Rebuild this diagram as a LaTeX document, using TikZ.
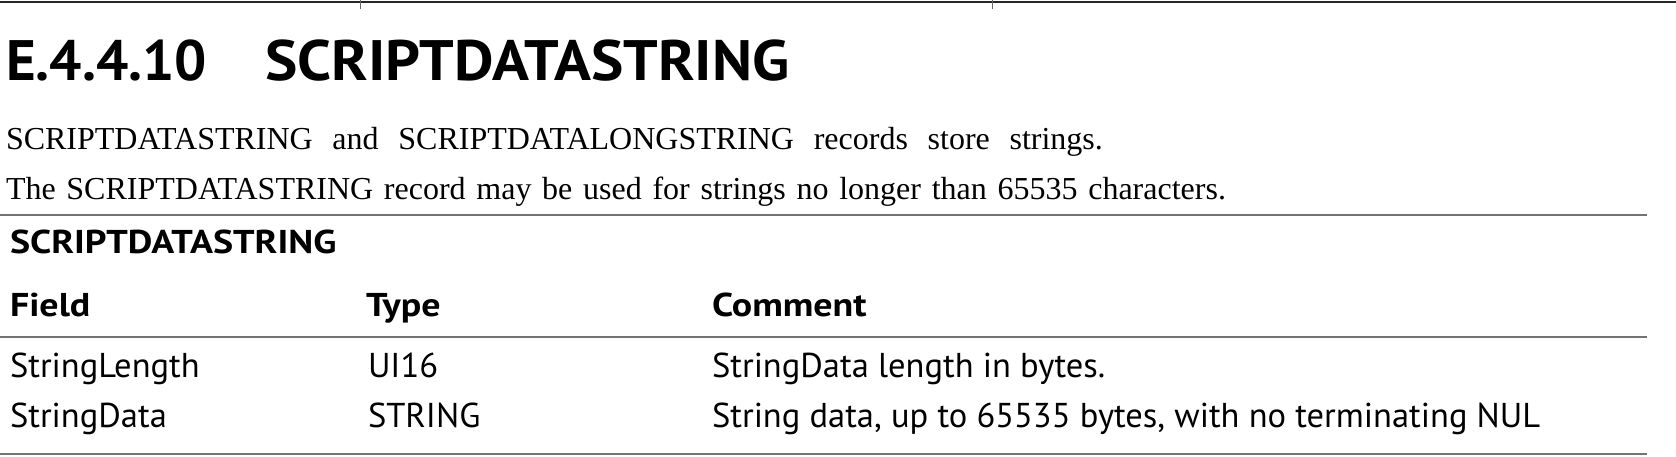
\documentclass[tikz,border=0pt]{standalone}
\usepackage{fontspec}
\setmainfont{Liberation Serif}
\newfontfamily\hsans{PT Sans}
\newfontfamily\hsanswide[FakeStretch=1.15]{PT Sans}
\newfontfamily\hsanshead[FakeStretch=1.07]{PT Sans}
\begin{document}
\begin{tikzpicture}[x=1pt,y=-1pt]
\tikzset{
 txt/.style={anchor=base west, inner sep=0pt, outer sep=0pt},
 headnum/.style={txt, font=\hsans\bfseries\fontsize{57}{62}\selectfont},
 headtxt/.style={txt, font=\hsanshead\bfseries\fontsize{57}{62}\selectfont},
 bodytxt/.style={txt, font=\fontsize{32}{36}\selectfont},
 tabtitle/.style={txt, font=\hsanswide\bfseries\fontsize{33}{36}\selectfont},
 tabhead/.style={txt, font=\hsanswide\bfseries\fontsize{33}{36}\selectfont},
 tabcell/.style={txt, font=\hsans\fontsize{34.5}{38}\selectfont},
 toprule/.style={draw=black!85, line width=2.6pt},
 midrule/.style={draw=black!55, line width=1.6pt},
 tick/.style={draw=black!60, line width=1pt},
}
\useasboundingbox (0,0) rectangle (1676,456);
% rules
\coordinate (t0) at (0,2);   \coordinate (t1) at (1676,2);
\coordinate (r1a) at (0,215); \coordinate (r1b) at (1647,215);
\coordinate (r2a) at (0,337); \coordinate (r2b) at (1647,337);
\coordinate (r3a) at (0,454); \coordinate (r3b) at (1647,454);
\coordinate (k1a) at (360,0); \coordinate (k1b) at (360,9);
\coordinate (k2a) at (992,0); \coordinate (k2b) at (992,9);
\draw[toprule] (t0) -- (t1);
\draw[tick] (k1a) -- (k1b);
\draw[tick] (k2a) -- (k2b);
\draw[midrule] (r1a) -- (r1b);
\draw[midrule] (r2a) -- (r2b);
\draw[midrule] (r3a) -- (r3b);
% heading
\node[headnum] (hnum) at (6,80) {E.4.4.10};
\node[headtxt] (htitle) at (265,80) {SCRIPTDATASTRING};
% body
\node[bodytxt] (b1) at (6,149) {\makebox[1097pt][s]{SCRIPTDATASTRING and SCRIPTDATALONGSTRING records store strings.}};
\node[bodytxt] (b2) at (6,199) {\makebox[1220pt][s]{The SCRIPTDATASTRING record may be used for strings no longer than 65535 characters.}};
% table
\node[tabtitle] (tt) at (10,253) {SCRIPTDATASTRING};
\node[tabhead] (hf) at (10,316) {Field};
\node[tabhead] (ht) at (366,316) {Type};
\node[tabhead] (hc) at (712,316) {Comment};
\node[tabcell] (c11) at (10,377) {StringLength};
\node[tabcell] (c12) at (368,377) {UI16};
\node[tabcell] (c13) at (712,377) {StringData length in bytes.};
\node[tabcell] (c21) at (10,427) {StringData};
\node[tabcell] (c22) at (368,427) {STRING};
\node[tabcell] (c23) at (712,427) {String data, up to 65535 bytes, with no terminating NUL};
\end{tikzpicture}
\end{document}
